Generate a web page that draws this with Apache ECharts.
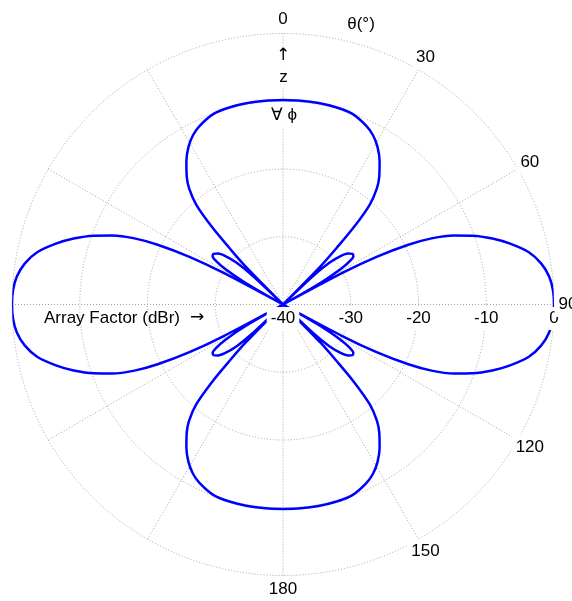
<!DOCTYPE html>
<html><head><meta charset="utf-8">
<script src="https://cdn.jsdelivr.net/npm/echarts@6/dist/echarts.min.js"></script>
<style>html,body{margin:0;padding:0;background:#fff}#c{width:572px;height:601px}</style>
</head><body><div id="c"></div>
<script>
// Polar angle theta (degrees from +z axis), 0..180
const thetaDeg = [0, 5, 10, 15, 20, 25, 28, 31, 34, 37, 39, 41, 42.5, 43.5, 44.5, 45.5, 46.5, 48, 50, 52, 54, 55.5, 57, 58.5, 60, 61, 62, 63, 64.5, 66, 68, 70, 72.5, 75, 78, 81, 84, 87, 90,
  93, 96, 99, 102, 105, 107.5, 110, 112, 114, 115.5, 117, 118, 119, 120, 121.5, 123, 124.5, 126, 128, 130, 132, 133.5, 134.5, 135.5, 136.5, 137.5, 139, 141, 143, 146, 149, 152, 155, 160, 165, 170, 175, 180];
// Array factor in dB relative to maximum (floor at -40)
const afDb = [-9.8, -9.8, -9.8, -9.85, -10.05, -10.9, -11.7, -12.9, -14.5, -16.4, -18.0, -20.5, -24.5, -28.5, -32, -40, -34, -30.8, -28.9, -27.8, -27.3, -27.4, -28.2, -30, -33.5, -40, -30, -24.5, -19.5, -16, -12.8, -10.3, -7.6, -5.3, -2.9, -1.4, -0.5, -0.1, 0,
  -0.1, -0.5, -1.4, -2.9, -5.3, -7.6, -10.3, -12.8, -16, -19.5, -24.5, -30, -40, -33.5, -30, -28.2, -27.4, -27.3, -27.8, -28.9, -30.8, -34, -40, -32, -28.5, -24.5, -20.5, -18.0, -16.4, -14.5, -12.9, -11.7, -10.9, -10.05, -9.85, -9.8, -9.8, -9.8];
// Axis tick labels
const radiusTicks = [-40, -30, -20, -10, 0];
const angleTickLabels = [0, 30, 60, 90, 120, 150, 180];

const FONT = 'Liberation Sans, Arial, sans-serif';
const SYMFONT = 'DejaVu Sans, sans-serif';
const gridLine = { color: '#a4a4a4', width: 1, type: [1, 2] };
const CENTER = [283, 304.5];
const R = 271;
const LABEL_OFFSET_DB = 2.07; // angle labels sit just outside the 0 dB ring

const rightSide = thetaDeg.map((t, i) => [afDb[i], t]);
const leftSide = thetaDeg.map((t, i) => [afDb[i], 360 - t]);
const angleLabelPts = angleTickLabels.map(a => ({ value: [LABEL_OFFSET_DB, a], name: String(a) }));

const chart = echarts.init(document.getElementById('c'), null, { renderer: 'canvas' });
chart.setOption({
  backgroundColor: '#fff',
  animation: false,
  polar: [
    { center: CENTER, radius: R },
    { center: CENTER, radius: R }
  ],
  angleAxis: [
    {
      polarIndex: 0, type: 'value', min: 0, max: 360, interval: 30,
      startAngle: 90, clockwise: true,
      axisLine: { show: false }, axisTick: { show: false }, axisLabel: { show: false },
      splitLine: { show: true, lineStyle: gridLine }
    },
    {
      polarIndex: 1, type: 'value', min: 90, max: 450, interval: 30,
      startAngle: 0, clockwise: true, show: false,
      axisLine: { show: false }, axisTick: { show: false }, splitLine: { show: false }, axisLabel: { show: false }
    }
  ],
  radiusAxis: [
    {
      polarIndex: 0, type: 'value', min: radiusTicks[0], max: radiusTicks[radiusTicks.length - 1], interval: 10,
      axisLine: { show: false }, axisTick: { show: false }, axisLabel: { show: false },
      splitLine: { show: true, lineStyle: gridLine }
    },
    {
      polarIndex: 1, type: 'value', min: radiusTicks[0], max: radiusTicks[radiusTicks.length - 1], interval: 10,
      z: 10,
      axisLine: { show: false }, axisTick: { show: false }, splitLine: { show: false },
      axisLabel: {
        show: true, margin: -14, align: 'center', verticalAlign: 'middle',
        color: '#000', fontSize: 17, fontFamily: FONT,
        backgroundColor: '#fff', padding: [3, 4, 3, 4],
        formatter: function (v) { return radiusTicks.indexOf(v) >= 0 ? String(v) : ''; }
      }
    }
  ],
  series: [
    {
      type: 'line', coordinateSystem: 'polar', polarIndex: 0, data: rightSide,
      symbol: 'none', smooth: 0.3, clip: false,
      lineStyle: { color: '#0000ff', width: 2.5 }
    },
    {
      type: 'line', coordinateSystem: 'polar', polarIndex: 0, data: leftSide,
      symbol: 'none', smooth: 0.3, clip: false,
      lineStyle: { color: '#0000ff', width: 2.5 }
    },
    {
      type: 'scatter', coordinateSystem: 'polar', polarIndex: 0, data: angleLabelPts,
      symbolSize: 0, clip: false, z: 10, silent: true,
      itemStyle: { opacity: 1 },
      label: {
        show: true, position: 'inside', formatter: '{b}', opacity: 1,
        color: '#000', fontSize: 17, fontFamily: FONT,
        backgroundColor: '#fff', padding: [4, 4, 4, 4]
      }
    }
  ],
  graphic: [
    { type: 'text', x: 361, y: 24, z: 100,
      style: { text: 'θ(°)', font: '17px ' + FONT, fill: '#000', align: 'center', verticalAlign: 'middle' } },
    { type: 'text', x: 283, y: 56, z: 100,
      style: { text: '↑', font: '17px ' + SYMFONT, fill: '#000', align: 'center', verticalAlign: 'middle', backgroundColor: '#fff', padding: [1, 1, 1, 1] } },
    { type: 'text', x: 283.5, y: 77, z: 100,
      style: { text: 'z', font: '17px ' + FONT, fill: '#000', align: 'center', verticalAlign: 'middle', backgroundColor: '#fff', padding: [2, 2, 2, 2] } },
    { type: 'text', x: 284, y: 115, z: 100,
      style: { text: '∀ ϕ', font: '17px ' + FONT, fill: '#000', align: 'center', verticalAlign: 'middle', backgroundColor: '#fff', padding: [6, 3, 2, 3] } },
    { type: 'text', x: 180, y: 318, z: 100,
      style: { text: 'Array Factor (dBr)', font: '17px ' + FONT, fill: '#000', align: 'right', verticalAlign: 'middle' } },
    { type: 'text', x: 197, y: 318, z: 100,
      style: { text: '→', font: '17px ' + SYMFONT, fill: '#000', align: 'center', verticalAlign: 'middle' } }
  ]
});
</script>
</body></html>
